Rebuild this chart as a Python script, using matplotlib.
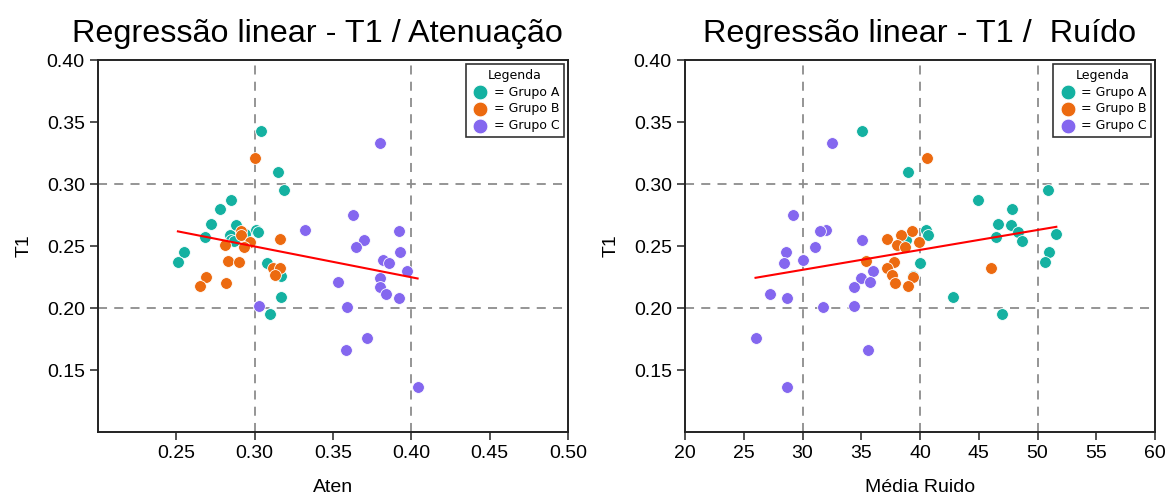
import matplotlib
matplotlib.use("Agg")
import matplotlib.pyplot as plt
import numpy as np

# T1 values per group, with the matching attenuation and mean-noise readings
t1_a = [0.343, 0.310, 0.295, 0.287, 0.280, 0.268, 0.267, 0.263, 0.260, 0.259,
        0.261, 0.257, 0.255, 0.254, 0.245, 0.237, 0.236, 0.226, 0.209, 0.195]
aten_a = [0.304, 0.315, 0.319, 0.285, 0.278, 0.272, 0.288, 0.301, 0.294, 0.284,
          0.302, 0.268, 0.285, 0.287, 0.255, 0.251, 0.308, 0.317, 0.317, 0.310]
ruido_a = [35.1, 39.0, 50.9, 44.9, 47.8, 46.6, 47.7, 40.5, 51.6, 40.7,
           48.3, 46.5, 38.8, 48.7, 51.0, 50.6, 40.0, 39.4, 42.8, 47.0]

t1_b = [0.321, 0.262, 0.259, 0.256, 0.253, 0.251, 0.249, 0.238, 0.237, 0.232,
        0.232, 0.227, 0.225, 0.220, 0.218]
aten_b = [0.300, 0.291, 0.291, 0.316, 0.297, 0.281, 0.293, 0.283, 0.290, 0.312,
          0.316, 0.313, 0.269, 0.282, 0.265]
ruido_b = [40.6, 39.3, 38.4, 37.2, 39.9, 38.0, 38.7, 35.4, 37.8, 37.2,
           46.0, 37.6, 39.4, 37.9, 39.0]

t1_c = [0.333, 0.275, 0.263, 0.262, 0.255, 0.249, 0.245, 0.239, 0.236, 0.230,
        0.224, 0.221, 0.217, 0.211, 0.208, 0.202, 0.201, 0.176, 0.166, 0.136]
aten_c = [0.380, 0.363, 0.332, 0.392, 0.370, 0.365, 0.393, 0.382, 0.386, 0.397,
          0.380, 0.353, 0.380, 0.384, 0.392, 0.303, 0.359, 0.372, 0.358, 0.404]
ruido_c = [32.5, 29.2, 32.0, 31.5, 35.1, 31.1, 28.6, 30.0, 28.4, 36.0,
           35.0, 35.7, 34.4, 27.2, 28.7, 34.4, 31.7, 26.0, 35.6, 28.7]

groups = ["= Grupo A", "= Grupo B", "= Grupo C"]
colors = ["#14b1a1", "#ec6a10", "#8467ef"]

aten_ticks = [0.25, 0.30, 0.35, 0.40, 0.45, 0.50]
ruido_ticks = [20, 25, 30, 35, 40, 45, 50, 55, 60]
t1_ticks = [0.15, 0.20, 0.25, 0.30, 0.35, 0.40]

plt.rcParams["font.family"] = ["Liberation Sans", "DejaVu Sans"]


def draw_panel(ax, xs, title, xlabel, xlim, xticks, vgrid, title_x):
    t1s = [t1_a, t1_b, t1_c]
    for x, y, c, lab in zip(xs, t1s, colors, groups):
        ax.scatter(x, y, s=72, color=c, edgecolor="white", linewidth=0.6,
                   label=lab, zorder=3)

    # linear fit over all points
    allx = np.concatenate([np.asarray(v) for v in xs])
    ally = np.concatenate([np.asarray(v) for v in t1s])
    m, b = np.polyfit(allx, ally, 1)
    fx = np.array([allx.min(), allx.max()])
    ax.plot(fx, m * fx + b, color="red", lw=1.5, zorder=4)

    for v in vgrid:
        ax.axvline(v, color="#8c8c8c", ls=(0, (5, 4)), lw=1.3, zorder=1)
    for h in [0.20, 0.30]:
        ax.axhline(h, color="#8c8c8c", ls=(0, (5, 4)), lw=1.3, zorder=1)

    ax.set_xlim(*xlim)
    ax.set_ylim(0.10, 0.40)
    ax.set_xticks(xticks)
    ax.set_yticks(t1_ticks)
    ax.set_yticklabels([f"{t:.2f}" for t in t1_ticks])
    ax.tick_params(labelsize=14, length=6, width=1.1, color="#222222")
    for s in ax.spines.values():
        s.set_linewidth(1.4)
        s.set_color("#222222")
    ax.set_xlabel(xlabel, fontsize=14, labelpad=12)
    ax.set_ylabel("T1", fontsize=14, labelpad=10)
    ax.set_title(title, fontsize=23.3, pad=13, x=title_x)

    leg = ax.legend(title="Legenda", loc="upper right", frameon=True,
                    fancybox=False, edgecolor="black", markerscale=1.25,
                    handletextpad=0.3, handlelength=1.5,
                    borderaxespad=0.3, borderpad=0.4, labelspacing=0.3,
                    prop={"family": "DejaVu Sans", "size": 9})
    leg.get_title().set_family("DejaVu Sans")
    leg.get_title().set_fontsize(9)
    leg.get_frame().set_linewidth(1.2)


fig = plt.figure(figsize=(11.68, 4.98), dpi=100)
ax1 = fig.add_axes([0.0839, 0.1325, 0.4024, 0.747])
ax2 = fig.add_axes([0.5865, 0.1325, 0.4024, 0.747])

draw_panel(ax1, [aten_a, aten_b, aten_c], "Regressão linear - T1 / Atenuação",
           "Aten", (0.20, 0.50), aten_ticks, [0.30, 0.40], 0.467)
ax1.set_xticklabels([f"{t:.2f}" for t in aten_ticks])

draw_panel(ax2, [ruido_a, ruido_b, ruido_c], "Regressão linear - T1 /  Ruído",
           "Média Ruido", (20, 60), ruido_ticks, [30, 40, 50], 0.5)

fig.savefig("out.png", dpi=100)
